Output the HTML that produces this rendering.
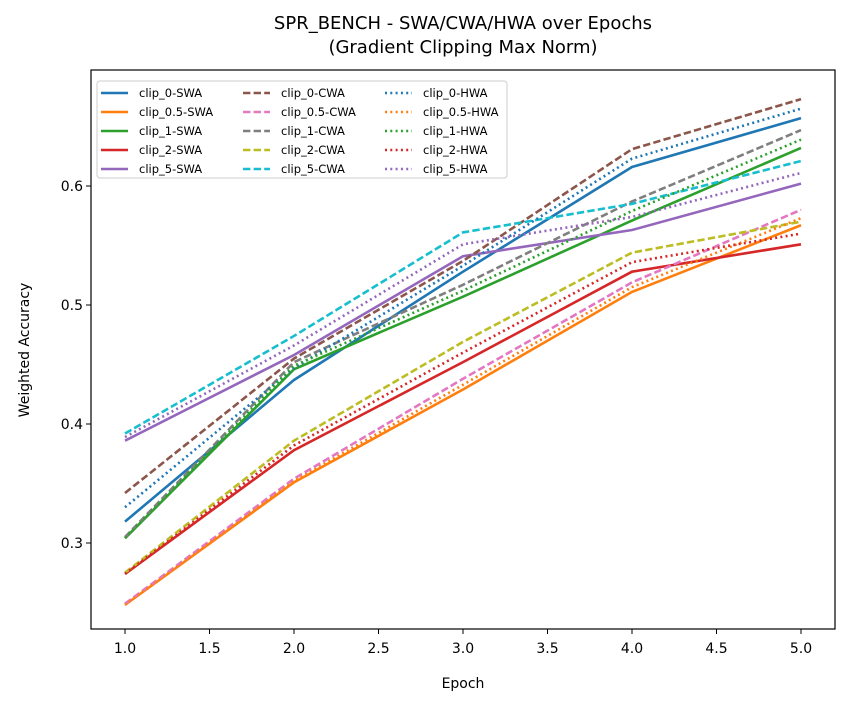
<!DOCTYPE html>
<html><head><meta charset="utf-8"><style>
body{margin:0;background:#fff;}
svg{display:block;font-family:"DejaVu Sans","Liberation Sans",sans-serif;}
</style></head><body>
<svg id="chart" width="850" height="707" xmlns="http://www.w3.org/2000/svg"></svg>
<script>
const epochs=[1,2,3,4,5];
const clips=["0","0.5","1","2","5"];
const swa=[[0.318,0.437,0.528,0.616,0.657],[0.248,0.351,0.429,0.511,0.567],[0.304,0.446,0.507,0.571,0.632],[0.274,0.378,0.452,0.528,0.551],[0.386,0.458,0.541,0.563,0.602]];
const cwa=[[0.342,0.455,0.537,0.631,0.673],[0.249,0.354,0.438,0.519,0.580],[0.305,0.452,0.517,0.587,0.647],[0.275,0.386,0.469,0.544,0.570],[0.392,0.474,0.561,0.585,0.621]];
const hwa=[[0.330,0.447,0.533,0.623,0.665],[0.248,0.352,0.433,0.515,0.573],[0.304,0.449,0.512,0.579,0.639],[0.274,0.382,0.460,0.536,0.560],[0.389,0.466,0.551,0.574,0.611]];
const xTicks=[1.0,1.5,2.0,2.5,3.0,3.5,4.0,4.5,5.0];
const yTicks=[0.3,0.4,0.5,0.6];
const NS="http://www.w3.org/2000/svg";
const svg=document.getElementById('chart');
const L=91,R=835,T=70,B=629;
const X=v=>125+(v-1)*169;
const Y=v=>543-(v-0.3)*1190;
function el(tag,attrs,parent){const e=document.createElementNS(NS,tag);for(const k in attrs)e.setAttribute(k,attrs[k]);(parent||svg).appendChild(e);return e;}
let t=el('text',{x:463,y:29,'text-anchor':'middle','font-size':18});


t.textContent='SPR_BENCH - SWA/CWA/HWA over Epochs';
t=el('text',{x:463,y:53,'text-anchor':'middle','font-size':18});


t.textContent='(Gradient Clipping Max Norm)';
xTicks.forEach(v=>{el('line',{x1:X(v),x2:X(v),y1:B,y2:B+5,stroke:'#000'});const tx=el('text',{x:X(v),y:B+24,'text-anchor':'middle','font-size':14});


tx.textContent=v.toFixed(1);});
yTicks.forEach(v=>{el('line',{x1:L-5,x2:L,y1:Y(v),y2:Y(v),stroke:'#000'});const tx=el('text',{x:L-8,y:Y(v)+5,'text-anchor':'end','font-size':14});


tx.textContent=v.toFixed(1);});
t=el('text',{x:463,y:688,'text-anchor':'middle','font-size':14});


t.textContent='Epoch';
t=el('text',{x:29,y:350,'text-anchor':'middle','font-size':14,transform:'rotate(-90 29 350)'});


t.textContent='Weighted Accuracy';
const c1=['#1f77b4','#ff7f0e','#2ca02c','#d62728','#9467bd'];
const c2=['#8c564b','#e377c2','#7f7f7f','#bcbd22','#17becf'];
const c3=['#1f77b4','#ff7f0e','#2ca02c','#d62728','#9467bd'];
const groups=[[swa,c1,'SWA',''],[cwa,c2,'CWA','7.4,3.2'],[hwa,c3,'HWA','2,3.3']];
groups.forEach(([data,cols,name,dash])=>{data.forEach((s,i)=>{const p=el('polyline',{points:s.map((v,j)=>X(epochs[j])+','+Y(v)).join(' '),fill:'none',stroke:cols[i],'stroke-width':2.6,'stroke-dasharray':dash||'none'});

});});
el('rect',{x:L,y:T,width:R-L,height:B-T,fill:'none',stroke:'#000','stroke-width':1.2});
const lg=el('g',{});


el('rect',{x:97,y:81,width:410,height:97,rx:3,fill:'#fff','fill-opacity':0.8,stroke:'#ccc'},lg);
const colX=[101,243,385];
groups.forEach(([data,cols,name,dash],g)=>{clips.forEach((c,i)=>{const y=93+i*19;el('line',{x1:colX[g],x2:colX[g]+27,y1:y,y2:y,stroke:cols[i],'stroke-width':2.6,'stroke-dasharray':dash||'none'},lg);const tx=el('text',{x:colX[g]+38,y:y+4,'font-size':11.5},lg);


tx.textContent='clip_'+c+'-'+name;});});
</script>
</body></html>
